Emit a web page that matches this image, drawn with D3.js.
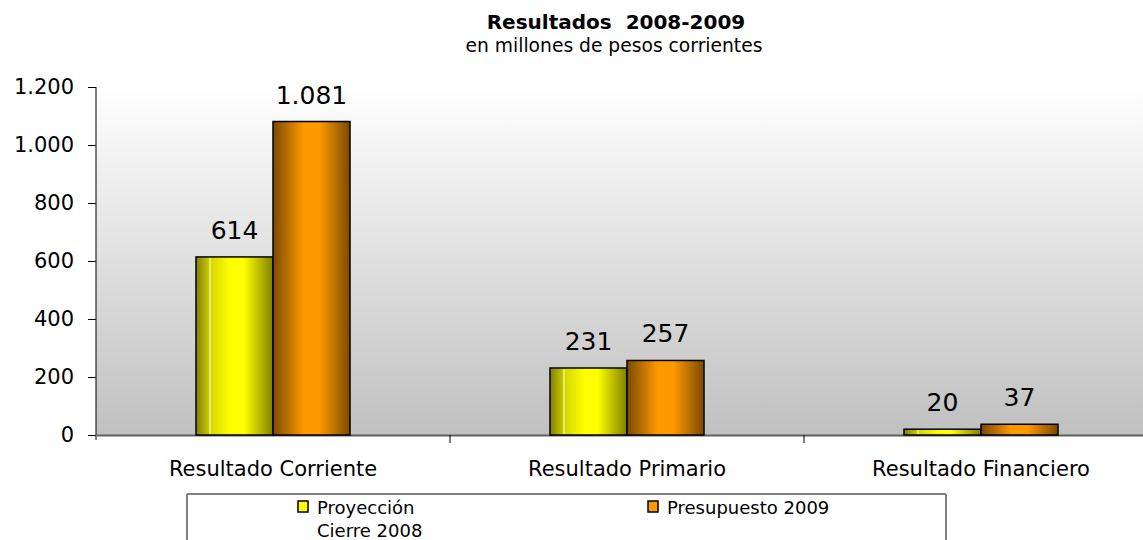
<!DOCTYPE html>
<html lang="es">
<head>
  <meta charset="UTF-8">
  <title>Resultados 2008-2009</title>
  <style>
    body { margin: 0; background: #fff; }
    svg { display: block; font-family: "DejaVu Sans", sans-serif; }
  </style>
</head>
<body>
  <svg width="1143" height="540"></svg>

  <script src="https://d3js.org/d3.v7.min.js"></script>
  <script>
    const categories = ["Resultado Corriente", "Resultado Primario", "Resultado Financiero"];
    const seriesNames = ["Proyección Cierre 2008", "Presupuesto 2009"];
    const proyeccion = [614, 231, 20];
    const presupuesto = [1081, 257, 37];
    const yTicks = [0, 200, 400, 600, 800, 1000, 1200];

    const svg = d3.select("svg");
    const plot = { left: 96, right: 1158, top: 87, bottom: 435 };
    const fmt = v => d3.format(",")(v).replace(/,/g, ".");

    const defs = svg.append("defs");
    const bg = defs.append("linearGradient").attr("id", "bg")
      .attr("x1", 0).attr("y1", 0).attr("x2", 0).attr("y2", 1);
    bg.append("stop").attr("offset", "0%").attr("stop-color", "#ffffff");
    bg.append("stop").attr("offset", "100%").attr("stop-color", "#c0c0c0");

    function barGradient(id, stops) {
      const g = defs.append("linearGradient").attr("id", id)
        .attr("x1", 0).attr("y1", 0).attr("x2", 1).attr("y2", 0);
      stops.forEach(s => g.append("stop").attr("offset", s[0]).attr("stop-color", s[1]));
    }
    barGradient("gYellow", [["0%", "#808000"], ["17%", "#c8c800"], ["18%", "#ffffe0"],
      ["19.5%", "#d8d800"], ["45%", "#ffff00"], ["62%", "#ffff00"], ["100%", "#808000"]]);
    barGradient("gOrange", [["0%", "#7a4a00"], ["40%", "#ff9900"], ["60%", "#ff9900"],
      ["100%", "#7a4a00"]]);

    const x0 = d3.scaleBand().domain(categories).range([plot.left, plot.right]);
    const x1 = d3.scaleBand().domain([0, 1]).range([0, 154]);
    const y = d3.scaleLinear().domain([0, 1200]).range([plot.bottom, plot.top]);

    svg.append("rect")
      .attr("x", plot.left).attr("y", plot.top)
      .attr("width", plot.right - plot.left).attr("height", plot.bottom - plot.top)
      .attr("fill", "url(#bg)");

    // title
    svg.append("text").attr("x", 616).attr("y", 29).attr("text-anchor", "middle")
      .attr("font-size", 20).attr("font-weight", "bold")
      .style("white-space", "pre").text("Resultados  2008-2009");
    svg.append("text").attr("x", 614).attr("y", 52).attr("text-anchor", "middle")
      .attr("font-size", 18.7).text("en millones de pesos corrientes");

    // y axis
    const yAxis = svg.append("g").attr("transform", `translate(${plot.left},0)`)
      .call(d3.axisLeft(y).tickValues(yTicks).tickSize(8).tickPadding(14).tickFormat(fmt));
    yAxis.select(".domain").attr("d", `M0,${plot.top}V${plot.bottom + 5}`).attr("stroke", "#000");
    yAxis.selectAll(".tick line").attr("stroke", "#000");
    yAxis.selectAll("text").attr("font-size", 21).attr("fill", "#000")
      .attr("font-family", "DejaVu Sans, sans-serif");

    // x axis
    const xAxis = svg.append("g").attr("transform", `translate(0,${plot.bottom})`)
      .call(d3.axisBottom(x0).tickSize(0).tickPadding(26));
    xAxis.select(".domain").attr("stroke", "#606060").attr("stroke-width", 2);
    xAxis.selectAll("text").attr("font-size", 21).attr("fill", "#000")
      .attr("font-family", "DejaVu Sans, sans-serif");
    svg.append("g").selectAll("line")
      .data(categories.slice(1))
      .join("line")
      .attr("x1", d => x0(d)).attr("x2", d => x0(d))
      .attr("y1", plot.bottom).attr("y2", plot.bottom + 8)
      .attr("stroke", "#000");

    // bars
    const rows = categories.map((c, i) => ({ cat: c, vals: [proyeccion[i], presupuesto[i]] }));
    const fills = ["url(#gYellow)", "url(#gOrange)"];
    const groups = svg.append("g").selectAll("g")
      .data(rows)
      .join("g")
      .attr("transform", d => `translate(${x0(d.cat) + x0.bandwidth() / 2 - 77},0)`);

    groups.selectAll("rect")
      .data(d => d.vals.map((v, k) => ({ v, k })))
      .join("rect")
      .attr("x", d => x1(d.k))
      .attr("y", d => y(d.v))
      .attr("width", x1.bandwidth())
      .attr("height", d => plot.bottom - y(d.v))
      .attr("fill", d => fills[d.k])
      .attr("stroke", "#000")
      .attr("stroke-width", 1.5);

    groups.selectAll("text")
      .data(d => d.vals.map((v, k) => ({ v, k })))
      .join("text")
      .attr("x", d => x1(d.k) + x1.bandwidth() / 2)
      .attr("y", d => y(d.v) - 18)
      .attr("text-anchor", "middle")
      .attr("font-size", 25)
      .text(d => fmt(d.v));

    // legend
    const legend = svg.append("g");
    legend.append("path")
      .attr("d", "M187,545V494H946V545")
      .attr("fill", "#fff").attr("stroke", "#000").attr("stroke-width", 1);
    legend.append("path").attr("d", "M187,494H946").attr("stroke", "#808080").attr("stroke-width", 2);

    const legendItems = [
      { x: 298, fill: "#ffff00", lines: ["Proyección", "Cierre 2008"] },
      { x: 648, fill: "#ff9900", lines: [seriesNames[1]] }
    ];
    legendItems.forEach(it => {
      legend.append("rect").attr("x", it.x).attr("y", 501).attr("width", 10).attr("height", 11)
        .attr("fill", it.fill).attr("stroke", "#000").attr("stroke-width", 1.5);
      legend.append("text").attr("x", it.x + 19).attr("y", 514).attr("font-size", 18)
        .text(it.lines[0]);
      if (it.lines[1]) {
        legend.append("text").attr("x", it.x + 19).attr("y", 537).attr("font-size", 18)
          .text(it.lines[1]);
      }
    });
  </script>
</body>
</html>
